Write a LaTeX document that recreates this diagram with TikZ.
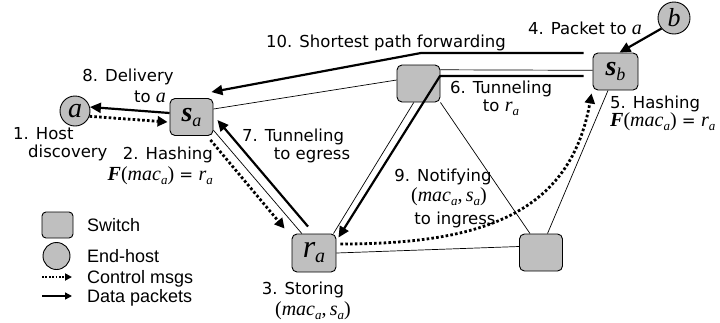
\documentclass[tikz,border=0pt]{standalone}
\usepackage{fontspec}
\setmainfont{DejaVu Sans}
\newfontfamily\tms{Liberation Serif}
\newfontfamily\arial{Liberation Sans}
\usetikzlibrary{arrows.meta}
\newcommand\tsz[1]{\fontsize{#1}{#1}\selectfont}
\newcommand\mi[1]{{\tms\itshape\tsz{20}#1}}
\newcommand\sub[1]{\raisebox{-4pt}{\tms\itshape\tsz{13}#1}}
\newcommand\Fm{{\tms\bfseries\itshape\tsz{20}F}{\tms\tsz{20}(}\mi{mac}\sub{a}{\tms\tsz{20})} = \mi{r}\sub{a}}
\newcommand\pair{{\tms\tsz{20}(}\mi{mac}\sub{a}{\tms\tsz{20},\,}\mi{s}\sub{a}{\tms\tsz{20})}}
\tikzset{
 sw/.style={draw, line width=0.9pt, fill=black!25, rounded corners=5pt, minimum width=43pt, minimum height=37pt, inner sep=0pt},
 host/.style={draw, line width=0.9pt, fill=black!25, circle, inner sep=0pt},
 link/.style={line width=0.7pt},
 data/.style={line width=2.2pt, -{Triangle[length=11pt,width=10pt]}},
 ctrl/.style={line width=2.8pt, dash pattern=on 2.6pt off 2.2pt, -{Triangle[length=10pt,width=10pt]}},
 ldata/.style={line width=1.4pt, -{Triangle[length=7pt,width=7pt]}},
 lctrl/.style={line width=1.8pt, dash pattern=on 1.8pt off 1.6pt, -{Triangle[length=7pt,width=7pt]}},
 lbl/.style={font=\tsz{16.5}, inner sep=0pt, text height=11pt, text depth=3pt},
 leg/.style={font=\arial\tsz{18}, anchor=base west, inner sep=0pt},
}
\begin{document}
\begin{tikzpicture}[x=1pt,y=-1pt]
\useasboundingbox (0,0) rectangle (720,322);
% nodes
\node[host, minimum size=30pt] (a) at (75,111) {\tms\itshape\tsz{28}a};
\node[host, minimum size=32pt] (b) at (674,18) {\tms\itshape\tsz{26}b};
\node[sw] (sa) at (191.5,117) {{\tms\bfseries\itshape\tsz{28}s}\raisebox{-5pt}{\tms\itshape\tsz{18}a}};
\node[sw] (m) at (418.5,83.5) {};
\node[sw, minimum width=45pt] (sb) at (615.5,71.5) {{\tms\bfseries\itshape\tsz{28}s}\raisebox{-5pt}{\tms\itshape\tsz{18}b}};
\node[sw, minimum width=44pt, minimum height=38pt] (ra) at (314,253) {{\tms\itshape\tsz{32}r}\raisebox{-5pt}{\tms\itshape\tsz{20}a}};
\node[sw] (br) at (541,252.5) {};
% thin links
\draw[link] (sa.20) -- (m.171);
\draw[link] (m.32) -- (sb.177);
\draw[link] (ra.45) -- (m.256);
\draw[link] (sa.-31) -- (ra.122);
\draw[link] (ra.east) -- ([yshift=6pt]br.west);
\draw[link] (m.south east) -- ([xshift=-11pt]br.north);
\draw[link] ([xshift=-7.5pt]sb.south) -- ([xshift=6.5pt]br.north);
% data arrows
\draw[data] (b.220) -- ([xshift=4pt]sb.north);
\draw[data, line join=round] ([shift={(-9pt,-0.5pt)}]sb.north west) -- (421,53) -- ([shift={(-2pt,6pt)}]sa.north east);
\draw[data, line join=round] ([shift={(-9pt,-4.5pt)}]sb.west) -- (440,76) -- ([shift={(2pt,-4pt)}]ra.north east);
\draw[data] ([shift={(-6pt,7pt)}]ra.north) -- ([shift={(4pt,-3pt)}]sa.east);
\draw[data] ([yshift=4pt]sa.west) -- (a.15);
% control arrows
\draw[ctrl] (a.-20) -- ([shift={(-2pt,-5pt)}]sa.west);
\draw[ctrl] ([shift={(-3pt,-4pt)}]sa.south east) -- ([shift={(-7pt,5pt)}]ra.north west);
\draw[ctrl] ([shift={(4pt,9pt)}]ra.east) .. controls (480,244) and (570,215) .. ([shift={(-1pt,-3pt)}]sb.south west);
% labels
\node[lbl] (l8a) at (128,77) {8. Delivery};
\node[lbl] (l8b) at (150,98) {to \mi{a}};
\node[lbl, anchor=west] (l1a) at (13,135) {1. Host};
\node[lbl, anchor=west] (l1b) at (28,153) {discovery};
\node[lbl, anchor=east] (l2a) at (213,155) {2. Hashing};
\node[lbl, anchor=east] (l2b) at (213,176) {\Fm};
\node[lbl] (l10) at (386,43) {10. Shortest path forwarding};
\node[lbl] (l4) at (585,30) {4. Packet to \mi{a}};
\node[lbl] (l6a) at (501,89) {6. Tunneling};
\node[lbl] (l6b) at (501,107) {to \mi{r}\sub{a}};
\node[lbl, anchor=west] (l5a) at (610,104) {5. Hashing};
\node[lbl, anchor=west] (l5b) at (610,122) {\Fm};
\node[lbl] (l7a) at (293,137) {7. Tunneling};
\node[lbl] (l7b) at (312,155) {to egress};
\node[lbl] (l9a) at (443,177) {9. Notifying};
\node[lbl] (l9b) at (449,197) {\pair};
\node[lbl] (l9c) at (455,220) {to ingress};
\node[lbl] (l3a) at (303,290) {3. Storing};
\node[lbl] (l3b) at (313,311) {\pair};
% legend
\node[sw, minimum width=31pt, minimum height=26pt, rounded corners=4pt] (lsw) at (57.5,225) {};
\node[leg] (tsw) at (87,231.4) {Switch};
\node[host, minimum size=27pt] (lh) at (56.5,256) {};
\node[leg] (th) at (87,262.4) {End-host};
\coordinate (c1) at (42,277); \coordinate (c2) at (72,277);
\draw[lctrl] (c1) -- (c2);
\node[leg] (tc) at (87,283.4) {Control msgs};
\coordinate (d1) at (42,296); \coordinate (d2) at (72,296);
\draw[ldata] (d1) -- (d2);
\node[leg] (td) at (87,302.4) {Data packets};
\end{tikzpicture}
\end{document}
